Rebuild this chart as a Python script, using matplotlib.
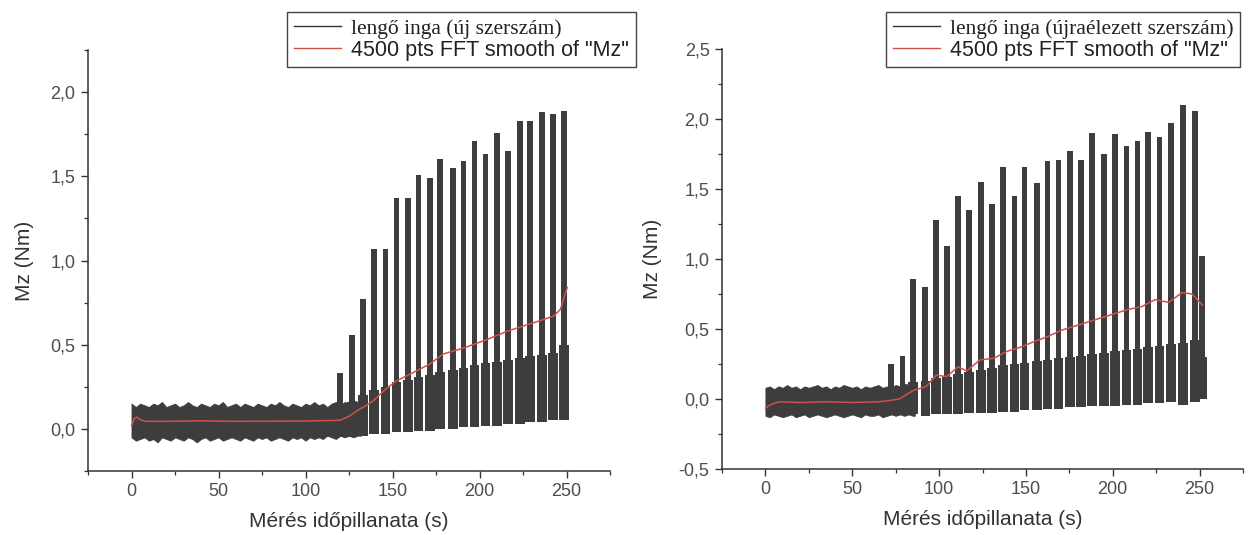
import matplotlib
matplotlib.use("Agg")
import matplotlib.pyplot as plt
from matplotlib.lines import Line2D
from matplotlib.ticker import MultipleLocator, FuncFormatter

plt.rcParams["font.family"] = ["Liberation Sans", "DejaVu Sans"]

# ---------------- left panel: lengő inga (új szerszám) ----------------
l_band_t = [0, 2.5, 5, 7.5, 10, 12.5, 15, 17.5, 20, 22.5, 25, 27.5, 30, 32.5, 35, 37.5,
            40, 42.5, 45, 47.5, 50, 52.5, 55, 57.5, 60, 62.5, 65, 67.5, 70, 72.5, 75, 77.5,
            80, 82.5, 85, 87.5, 90, 92.5, 95, 97.5, 100, 102.5, 105, 107.5, 110, 112.5,
            115, 117.5, 120, 122.5, 125, 127.5, 130, 132]
l_band_hi = [0.15, 0.13, 0.15, 0.14, 0.13, 0.15, 0.14, 0.16, 0.13, 0.14,
             0.15, 0.13, 0.14, 0.16, 0.14, 0.13, 0.15, 0.14, 0.13, 0.15,
             0.14, 0.16, 0.13, 0.14, 0.15, 0.13, 0.15, 0.14, 0.13, 0.15,
             0.14, 0.13, 0.15, 0.14, 0.16, 0.14, 0.13, 0.15, 0.14, 0.13,
             0.15, 0.14, 0.16, 0.14, 0.15, 0.13, 0.15, 0.16, 0.14, 0.16,
             0.15, 0.17, 0.16, 0.17]
l_band_lo = [-0.05, -0.07, -0.06, -0.05, -0.07, -0.06, -0.08, -0.05, -0.06, -0.07,
             -0.05, -0.06, -0.07, -0.05, -0.06, -0.08, -0.06, -0.05, -0.07, -0.06,
             -0.05, -0.07, -0.06, -0.05, -0.06, -0.07, -0.05, -0.06, -0.07, -0.05,
             -0.06, -0.05, -0.07, -0.06, -0.05, -0.06, -0.07, -0.05, -0.06, -0.05,
             -0.07, -0.05, -0.06, -0.05, -0.06, -0.04, -0.05, -0.06, -0.04, -0.05,
             -0.04, -0.05, -0.04, -0.04]

l_spk_t = [120.0, 126.7, 133.1, 139.4, 146.0, 152.3, 159.0, 165.0, 171.5, 177.3, 184.6,
           190.8, 197.1, 203.5, 210.0, 216.3, 223.1, 229.2, 236.0, 242.1, 248.6]
l_spk_hi = [0.33, 0.56, 0.77, 1.07, 1.07, 1.37, 1.37, 1.51, 1.49, 1.60, 1.55,
            1.59, 1.71, 1.63, 1.76, 1.65, 1.83, 1.83, 1.88, 1.87, 1.89]
l_spk_lo = [-0.05, -0.05, -0.04, -0.03, -0.03, -0.02, -0.02, -0.01, -0.01, 0.0, 0.0,
            0.01, 0.01, 0.02, 0.02, 0.03, 0.03, 0.04, 0.04, 0.05, 0.05]
l_spk_mid = [0.15, 0.16, 0.20, 0.23, 0.25, 0.28, 0.29, 0.31, 0.32, 0.34, 0.35,
             0.36, 0.38, 0.39, 0.40, 0.41, 0.42, 0.43, 0.44, 0.45, 0.50]

l_fft_t = [0, 1.5, 3, 5, 8, 20, 40, 60, 80, 100, 115, 120, 125, 130, 135, 138.8, 146.5,
           152.3, 160, 171.5, 179.2, 190.8, 204.2, 215.8, 231, 242.7, 246.5, 250.4]
l_fft_v = [0.02, 0.06, 0.07, 0.055, 0.045, 0.045, 0.048, 0.045, 0.046, 0.047, 0.05,
           0.052, 0.075, 0.11, 0.14, 0.166, 0.24, 0.285, 0.325, 0.385, 0.445, 0.48,
           0.53, 0.58, 0.63, 0.67, 0.71, 0.84]

# ---------------- right panel: lengő inga (újraélezett szerszám) ----------------
r_band_t = [0, 2.5, 5, 7.5, 10, 12.5, 15, 17.5, 20, 22.5, 25, 27.5, 30, 32.5, 35, 37.5,
            40, 42.5, 45, 47.5, 50, 52.5, 55, 57.5, 60, 62.5, 65, 67.5, 70, 72.5, 75, 77.5,
            80, 82.5, 85, 86]
r_band_hi = [0.08, 0.09, 0.07, 0.09, 0.08, 0.10, 0.08, 0.09, 0.07, 0.09,
             0.08, 0.09, 0.10, 0.08, 0.09, 0.07, 0.09, 0.08, 0.10, 0.09,
             0.08, 0.09, 0.07, 0.09, 0.08, 0.09, 0.10, 0.08, 0.09, 0.08,
             0.10, 0.09, 0.11, 0.10, 0.12, 0.12]
r_band_lo = [-0.12, -0.13, -0.11, -0.12, -0.13, -0.12, -0.11, -0.13, -0.12, -0.11,
             -0.13, -0.12, -0.11, -0.12, -0.13, -0.12, -0.11, -0.12, -0.13, -0.12,
             -0.11, -0.12, -0.13, -0.11, -0.12, -0.12, -0.11, -0.13, -0.12, -0.11,
             -0.12, -0.11, -0.12, -0.11, -0.12, -0.12]

r_spk_t = [72.5, 79.0, 84.9, 92.1, 98.1, 104.7, 111.0, 117.4, 124.0, 130.4, 136.8, 143.4,
           149.2, 156.2, 162.4, 168.8, 175.2, 181.8, 188.2, 194.8, 201.2, 207.9, 214.3,
           220.5, 226.9, 233.7, 240.3, 247.3, 251.5]
r_spk_hi = [0.25, 0.31, 0.86, 0.80, 1.28, 1.09, 1.45, 1.35, 1.55, 1.39, 1.66, 1.45,
            1.66, 1.54, 1.70, 1.71, 1.77, 1.71, 1.90, 1.75, 1.89, 1.81, 1.84,
            1.91, 1.87, 1.97, 2.10, 2.06, 1.02]
r_spk_lo = [-0.11, -0.11, -0.11, -0.12, -0.11, -0.11, -0.11, -0.10, -0.10, -0.10, -0.09,
            -0.09, -0.08, -0.08, -0.07, -0.07, -0.06, -0.06, -0.05, -0.05, -0.05, -0.04,
            -0.04, -0.03, -0.03, -0.02, -0.04, -0.02, 0.0]
r_spk_mid = [0.08, 0.08, 0.12, 0.13, 0.15, 0.16, 0.18, 0.19, 0.21, 0.22, 0.24, 0.25,
             0.26, 0.27, 0.28, 0.29, 0.30, 0.31, 0.32, 0.33, 0.34, 0.35, 0.36,
             0.37, 0.38, 0.39, 0.40, 0.42, 0.30]

r_fft_t = [0, 3, 8, 20, 35, 50, 65, 72, 77, 81, 85, 92.6, 98.4, 104.3, 111, 115.9, 123.6,
           131.4, 139, 146.9, 154.7, 162.4, 170.2, 177.9, 185.7, 193.4, 201.2, 208.9,
           216.7, 224.4, 232.2, 239.9, 245.7, 251.6]
r_fft_v = [-0.065, -0.04, -0.02, -0.025, -0.02, -0.025, -0.02, -0.01, 0.0, 0.03, 0.06,
           0.09, 0.17, 0.16, 0.23, 0.20, 0.28, 0.29, 0.34, 0.37, 0.41, 0.445, 0.49, 0.52,
           0.55, 0.58, 0.61, 0.64, 0.66, 0.71, 0.69, 0.76, 0.75, 0.67]

SIG = "#3d3d3d"
RED = "#d0504a"


def comma_fmt(v, pos):
    s = f"{v:.1f}".replace(".", ",")
    return "0,0" if s == "-0,0" else s


def draw_panel(ax, band_t, band_hi, band_lo, spk_t, spk_hi, spk_lo, spk_mid,
               fft_t, fft_v, ylim, label, leg_x):
    ax.fill_between(band_t, band_lo, band_hi, color=SIG, lw=0.6, zorder=2)
    ax.bar(spk_t, [m - lo for m, lo in zip(spk_mid, spk_lo)], bottom=spk_lo,
           width=5.6, color=SIG, lw=0, zorder=2)
    ax.bar(spk_t, [h - m for h, m in zip(spk_hi, spk_mid)], bottom=spk_mid,
           width=3.3, color=SIG, lw=0, zorder=2)
    ax.vlines(spk_t, spk_mid, spk_hi, color=SIG, lw=1.0, zorder=2)
    ax.plot(fft_t, fft_v, color=RED, lw=1.1, zorder=3)

    ax.set_xlim(-25, 275)
    ax.set_ylim(*ylim)
    ax.xaxis.set_major_locator(MultipleLocator(50))
    ax.xaxis.set_minor_locator(MultipleLocator(25))
    ax.yaxis.set_major_locator(MultipleLocator(0.5))
    ax.yaxis.set_minor_locator(MultipleLocator(0.25))
    ax.yaxis.set_major_formatter(FuncFormatter(comma_fmt))

    for side in ("top", "right"):
        ax.spines[side].set_visible(False)
    for side in ("left", "bottom"):
        ax.spines[side].set_color("#333333")
        ax.spines[side].set_linewidth(1.1)
    ax.tick_params(which="major", direction="out", length=5, width=1.0,
                   color="#333333", labelsize=13, labelcolor="#4d4d4d", pad=4)
    ax.tick_params(which="minor", direction="out", length=3, width=0.9,
                   color="#333333")

    ax.set_xlabel("Mérés időpillanata (s)", fontsize=15, color="#333333", labelpad=8)
    ax.set_ylabel("Mz (Nm)", fontsize=15, color="#333333", labelpad=12)

    handles = [Line2D([], [], color="#333333", lw=1.0),
               Line2D([], [], color=RED, lw=1.0)]
    leg = ax.legend(handles, [label, '4500 pts FFT smooth of "Mz"'],
                    loc="upper left", bbox_to_anchor=(leg_x, 1 - 12 / 535),
                    bbox_transform=ax.figure.transFigure, fontsize=15.5,
                    frameon=True, fancybox=False, framealpha=1, borderpad=0.32,
                    labelspacing=0.03, handlelength=2.2, handletextpad=0.45,
                    borderaxespad=0)
    leg.get_frame().set_edgecolor("#444444")
    leg.get_frame().set_linewidth(1.0)
    texts = leg.get_texts()
    texts[0].set_fontfamily(["Liberation Serif", "DejaVu Serif"])
    for t in texts:
        t.set_color("#222222")


fig = plt.figure(figsize=(12.5, 5.35), dpi=100)
ax1 = fig.add_axes([88 / 1250, 1 - 471 / 535, 522 / 1250, 421 / 535])
ax2 = fig.add_axes([722 / 1250, 1 - 469 / 535, 521 / 1250, 420 / 535])

draw_panel(ax1, l_band_t, l_band_hi, l_band_lo, l_spk_t, l_spk_hi, l_spk_lo, l_spk_mid,
           l_fft_t, l_fft_v, (-0.25, 2.25), "lengő inga (új szerszám)", 287 / 1250)
draw_panel(ax2, r_band_t, r_band_hi, r_band_lo, r_spk_t, r_spk_hi, r_spk_lo, r_spk_mid,
           r_fft_t, r_fft_v, (-0.5, 2.5), "lengő inga (újraélezett szerszám)", 886 / 1250)

fig.savefig("out.png", dpi=100)
